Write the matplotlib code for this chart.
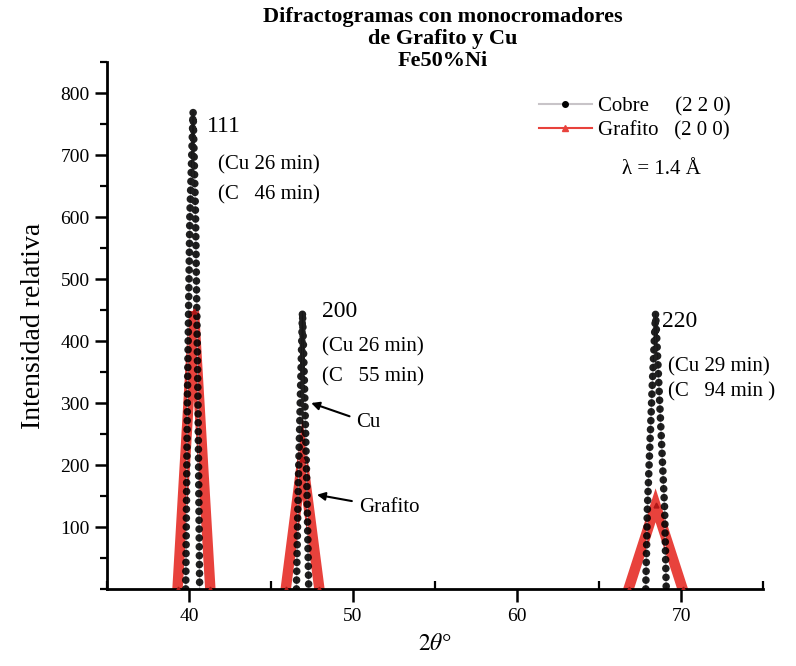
import matplotlib
matplotlib.use("Agg")
import matplotlib.pyplot as plt
from matplotlib.lines import Line2D
from matplotlib.ticker import MultipleLocator

plt.rcParams['font.family'] = ['Liberation Serif', 'DejaVu Serif']
plt.rcParams['mathtext.fontset'] = 'stix'

# ---- data ----
cu_111_x = [39.8, 39.9, 40.05, 40.25, 40.4, 40.55, 40.65]
cu_111_y = [0, 300, 600, 770, 600, 300, 0]
gr_111_x = [39.3, 40.3, 41.3]
gr_111_y = [0, 448, 0]

cu_200_x = [46.55, 46.65, 46.8, 46.92, 47.05, 47.2, 47.3]
cu_200_y = [0, 150, 320, 447, 320, 150, 0]
gr_200_x = [45.9, 46.92, 47.95]
gr_200_y = [0, 210, 0]

cu_220_x = [67.85, 67.95, 68.25, 68.45, 68.65, 69.0, 69.1]
cu_220_y = [0, 130, 330, 445, 330, 130, 0]
gr_220_x = [66.8, 68.45, 70.1]
gr_220_y = [0, 135, 0]

x_ticks = [40, 50, 60, 70]
y_ticks = [100, 200, 300, 400, 500, 600, 700, 800]

peak_labels = ["111", "200", "220"]
cu_times = ["(Cu 26 min)", "(Cu 26 min)", "(Cu 29 min)"]
c_times = ["(C   46 min)", "(C   55 min)", "(C   94 min )"]
label_x = [41.1, 48.1, 68.87]
label_y = [746, 447, 431]
time_x = [41.75, 48.1, 69.2]
cu_time_y = [684, 390, 358]
c_time_y = [636, 342, 318]

RED = '#e8423c'

fig = plt.figure(figsize=(7.96, 6.66), dpi=100)
ax = fig.add_axes([107/796, 1-589/666, (763-107)/796, (589-62)/666])

for gx, gy in [(gr_111_x, gr_111_y), (gr_200_x, gr_200_y), (gr_220_x, gr_220_y)]:
    ax.plot(gx, gy, color=RED, lw=7.5, solid_joinstyle='miter', zorder=2)
    ax.plot(gx, gy, ls='none', marker='^', ms=3.5, color='#b01818', zorder=4)

for cx, cy in [(cu_111_x, cu_111_y), (cu_200_x, cu_200_y), (cu_220_x, cu_220_y)]:
    ax.plot(cx, cy, color='#b8b8c0', lw=0.8, zorder=2.5)
    ax.plot(cx, cy, color='black', lw=5.5, ls=(0, (0.01, 1.15)),
            dash_capstyle='round', zorder=3, alpha=0.88)

ax.set_xlim(35, 75)
ax.set_ylim(0, 850)
ax.set_xticks(x_ticks)
ax.set_yticks(y_ticks)
ax.xaxis.set_minor_locator(MultipleLocator(5))
ax.yaxis.set_minor_locator(MultipleLocator(50))
ax.tick_params(axis='both', which='major', direction='out', length=9, width=1.8,
               labelsize=14)
ax.tick_params(axis='x', which='minor', direction='in', length=6, width=1.6)
ax.tick_params(axis='y', which='minor', direction='out', length=5, width=1.6)
ax.tick_params(axis='x', pad=5)
for s in ['top', 'right']:
    ax.spines[s].set_visible(False)
for s in ['left', 'bottom']:
    ax.spines[s].set_linewidth(2)

ax.set_xlabel(r'$2\theta$°', fontsize=17, labelpad=6)
ax.set_ylabel('Intensidad relativa', fontsize=20, labelpad=10)

fig.text(443/796, 1-7/666, "Difractogramas con monocromadores\nde Grafito y Cu\nFe50%Ni",
         ha='center', va='top', fontsize=16, fontweight='bold', linespacing=1.12)

for lab, ct, cc, lx, ly, tx, cy1, cy2 in zip(peak_labels, cu_times, c_times, label_x,
                                              label_y, time_x, cu_time_y, c_time_y):
    ax.text(lx, ly, lab, fontsize=17, va='center', ha='left')
    ax.text(tx, cy1, ct, fontsize=15, va='center', ha='left')
    ax.text(tx, cy2, cc, fontsize=15, va='center', ha='left')

ax.annotate('Cu', xy=(47.45, 300), xytext=(50.2, 268), fontsize=15, va='center',
            arrowprops=dict(arrowstyle='-|>', color='black', lw=1.5,
                            shrinkA=3, shrinkB=0, mutation_scale=12))
ax.annotate('Grafito', xy=(47.8, 152), xytext=(50.35, 131), fontsize=15, va='center',
            arrowprops=dict(arrowstyle='-|>', color='black', lw=1.5,
                            shrinkA=3, shrinkB=0, mutation_scale=12))

handles = [Line2D([], [], color='#c8c4c8', lw=1.5, marker='o', ms=4,
                  markerfacecolor='black', markeredgecolor='black'),
           Line2D([], [], color=RED, lw=1.5, marker='^', ms=5,
                  markerfacecolor=RED, markeredgecolor=RED)]
ax.legend(handles, ['Cobre     (2 2 0)', 'Grafito   (2 0 0)'],
          loc='upper left', bbox_to_anchor=(529/796, 1-86/666),
          bbox_transform=fig.transFigure, frameon=False, fontsize=15,
          handlelength=2.5, handletextpad=0.3, labelspacing=0.25, borderpad=0)
fig.text(622/796, 1-170/666, 'λ = 1.4 Å', fontsize=15, va='center', ha='left')

fig.savefig('out.png', dpi=100)
